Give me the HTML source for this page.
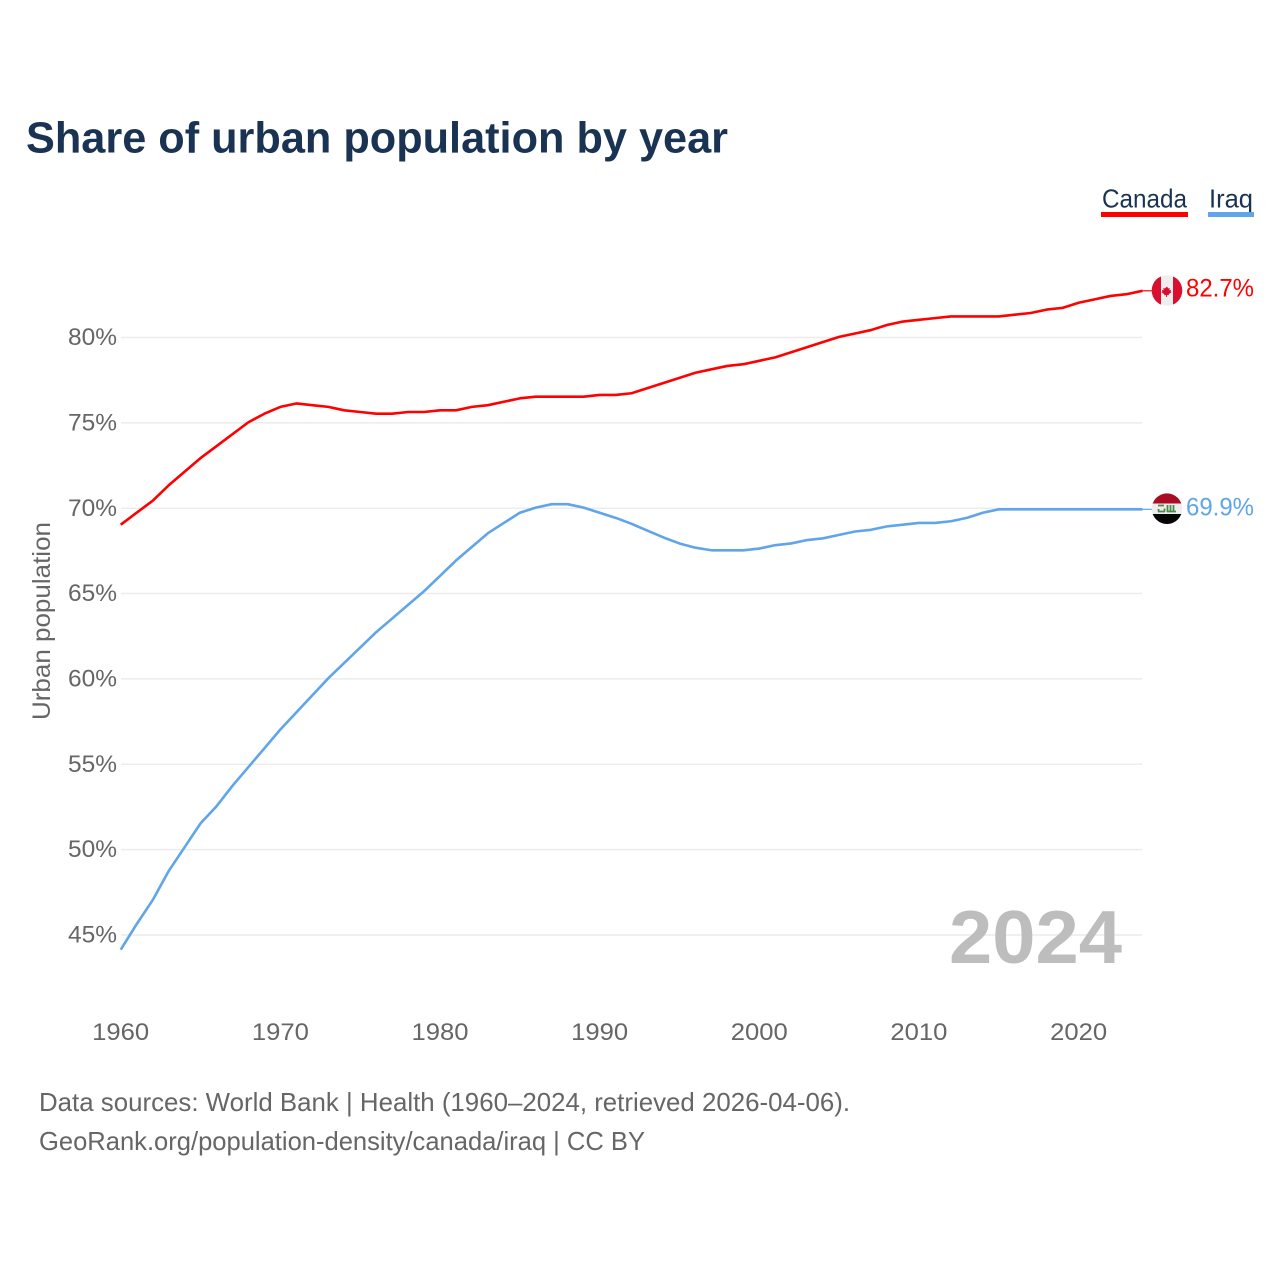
<!DOCTYPE html>
<html lang="en">
<head>
<meta charset="utf-8">
<title>Share of urban population by year</title>
<style>
html,body{margin:0;padding:0;background:#fff;width:1280px;height:1280px;overflow:hidden}
svg{display:block}
text{font-family:"Liberation Sans",sans-serif}
</style>
</head>
<body>
<svg id="chart" width="1280" height="1280" viewBox="0 0 1280 1280" xmlns="http://www.w3.org/2000/svg">
  <defs>
    <clipPath id="flag-clip-ca"><circle cx="1167" cy="290.5" r="15.3"/></clipPath>
    <clipPath id="flag-clip-iq"><circle cx="1167" cy="508.7" r="15.3"/></clipPath>
  </defs>
  <text x="26" y="152.500" font-size="44" font-weight="700" fill="#1a3353" textLength="702" lengthAdjust="spacingAndGlyphs">Share of urban population by year</text>

  <g>
    <g>
      <text x="1102" y="207.500" font-size="26" fill="#1a3353" textLength="85" lengthAdjust="spacingAndGlyphs">Canada</text>
      <rect x="1101" y="212" width="87" height="5" fill="#ff0000"/>
    </g>
    <g>
      <text x="1209" y="207.500" font-size="26" fill="#1a3353" textLength="44" lengthAdjust="spacingAndGlyphs">Iraq</text>
      <rect x="1208" y="212" width="46" height="5" fill="#60a5ea"/>
    </g>
  </g>

  <g id="grid"></g>
  <g id="y-ticks"></g>
  <g id="x-ticks"></g>
  <text transform="translate(50,621) rotate(-90)" text-anchor="middle" font-size="25" fill="#666666" textLength="198" lengthAdjust="spacingAndGlyphs">Urban population</text>

  <text x="1122" y="963" text-anchor="end" font-size="75" font-weight="700" fill="#bdbdbd" textLength="173" lengthAdjust="spacingAndGlyphs">2024</text>

  <g id="series"></g>

  <g clip-path="url(#flag-clip-ca)">
    <rect x="1151" y="275" width="32" height="31" fill="#eeeeee"/>
    <rect x="1151" y="275" width="10" height="31" fill="#d80f2f"/>
    <rect x="1173" y="275" width="10" height="31" fill="#d80f2f"/>
    <path d="M1167 286.500l1.200 2 1.600-.6-.5 2.400 1.700-.4-.4 1.600 1 .6-2.700 2-.3 1.200-1.600-.3v1.900h-1v-1.900l-1.600.3-.3-1.200-2.700-2 1-.6-.4-1.600 1.700.4-.5-2.400 1.600.6z" fill="#d80f2f"/>
  </g>
  <g clip-path="url(#flag-clip-iq)">
    <rect x="1151" y="493" width="32" height="10.500" fill="#a80d24"/>
    <rect x="1151" y="503.500" width="32" height="10.500" fill="#eeeeee"/>
    <rect x="1151" y="514" width="32" height="10.500" fill="#050505"/>
    <path d="M1158 505.500h6M1158 511.500h7M1164.500 511.500v-3M1158.500 511.500v-2.500M1167.500 512v-7M1170.500 512v-7M1173.500 512v-7M1167 511.500h9" fill="none" stroke="#4b8a47" stroke-width="1.800"/>
  </g>

  <text x="1254" y="296.500" text-anchor="end" font-size="25" fill="#ff0000" textLength="68" lengthAdjust="spacingAndGlyphs">82.7%</text>
  <text x="1254" y="515.500" text-anchor="end" font-size="25" fill="#60a5ea" textLength="68" lengthAdjust="spacingAndGlyphs">69.9%</text>

  <text x="39" y="1111" font-size="26" fill="#666666" textLength="811" lengthAdjust="spacingAndGlyphs">Data sources: World Bank | Health (1960–2024, retrieved 2026-04-06).</text>
  <text x="39" y="1150" font-size="26" fill="#666666" textLength="606" lengthAdjust="spacingAndGlyphs">GeoRank.org/population-density/canada/iraq | CC BY</text>
</svg>
<script>
const years = [1960,1961,1962,1963,1964,1965,1966,1967,1968,1969,1970,1971,1972,1973,1974,1975,1976,1977,1978,1979,1980,1981,1982,1983,1984,1985,1986,1987,1988,1989,1990,1991,1992,1993,1994,1995,1996,1997,1998,1999,2000,2001,2002,2003,2004,2005,2006,2007,2008,2009,2010,2011,2012,2013,2014,2015,2016,2017,2018,2019,2020,2021,2022,2023,2024];
const canadaValues = [69.0,69.7,70.4,71.3,72.1,72.9,73.6,74.3,75.0,75.5,75.9,76.1,76.0,75.9,75.7,75.6,75.5,75.5,75.6,75.6,75.7,75.7,75.9,76.0,76.2,76.4,76.5,76.5,76.5,76.5,76.6,76.6,76.7,77.0,77.3,77.6,77.9,78.1,78.3,78.4,78.6,78.8,79.1,79.4,79.7,80.0,80.2,80.4,80.7,80.9,81.0,81.1,81.2,81.2,81.2,81.2,81.3,81.4,81.6,81.7,82.0,82.2,82.4,82.5,82.7];
const iraqValues = [44.1,45.6,47.0,48.7,50.1,51.5,52.5,53.7,54.8,55.9,57.0,58.0,59.0,60.0,60.9,61.8,62.7,63.5,64.3,65.1,66.0,66.9,67.7,68.5,69.1,69.7,70.0,70.2,70.2,70.0,69.7,69.4,69.05,68.65,68.25,67.9,67.65,67.5,67.5,67.5,67.6,67.8,67.9,68.1,68.2,68.4,68.6,68.7,68.9,69.0,69.1,69.1,69.2,69.4,69.7,69.9,69.9,69.9,69.9,69.9,69.9,69.9,69.9,69.9,69.9];
const yTickValues = [45,50,55,60,65,70,75,80];
const xTickValues = [1960,1970,1980,1990,2000,2010,2020];

const NS = 'http://www.w3.org/2000/svg';
function xScale(year){ return 120.7 + (year - 1960) * 15.965; }
function yScale(value){ return 336.9 + (80 - value) * 17.07; }

const gridGroup = document.getElementById('grid');
const yGroup = document.getElementById('y-ticks');
yTickValues.forEach(function(v){
  const line = document.createElementNS(NS,'line');
  
  
  line.setAttribute('x1', 121);
  line.setAttribute('x2', 1142);
  line.setAttribute('y1', yScale(v) + 0.6);
  line.setAttribute('y2', yScale(v) + 0.6);
  line.setAttribute('stroke', '#ececec');
  line.setAttribute('stroke-width', '1.5');
  gridGroup.appendChild(line);
  const t = document.createElementNS(NS,'text');
  
  
  t.setAttribute('x', 117);
  t.setAttribute('y', yScale(v) + 8.2);
  t.setAttribute('text-anchor', 'end');
  t.setAttribute('font-size', '24');
  t.setAttribute('fill', '#666666');
  t.setAttribute('textLength', '49');
  t.setAttribute('lengthAdjust', 'spacingAndGlyphs');
  t.textContent = v + '%';
  yGroup.appendChild(t);
});

const xGroup = document.getElementById('x-ticks');
xTickValues.forEach(function(y){
  const t = document.createElementNS(NS,'text');
  
  
  t.setAttribute('x', xScale(y));
  t.setAttribute('y', 1040);
  t.setAttribute('text-anchor', 'middle');
  t.setAttribute('font-size', '24');
  t.setAttribute('fill', '#666666');
  t.setAttribute('textLength', '57');
  t.setAttribute('lengthAdjust', 'spacingAndGlyphs');
  t.textContent = y;
  xGroup.appendChild(t);
});

function drawSeries(values, color, name){
  const last = values.length - 1;
  const main = document.createElementNS(NS,'polyline');
  
  
  main.setAttribute('points', values.map(function(v,i){ return xScale(years[i]) + ',' + yScale(v); }).join(' '));
  main.setAttribute('fill', 'none');
  main.setAttribute('stroke', color);
  main.setAttribute('stroke-width', '2.6');
  main.setAttribute('stroke-linejoin', 'round');
  document.getElementById('series').appendChild(main);
  const lead = document.createElementNS(NS,'line');
  
  
  lead.setAttribute('x1', xScale(years[last]));
  lead.setAttribute('x2', xScale(years[last]) + 10);
  lead.setAttribute('y1', yScale(values[last]));
  lead.setAttribute('y2', yScale(values[last]));
  lead.setAttribute('stroke', color);
  lead.setAttribute('stroke-width', '1.2');
  document.getElementById('series').appendChild(lead);
}
drawSeries(canadaValues, '#ff0000', 'line-canada');
drawSeries(iraqValues, '#60a5ea', 'line-iraq');
</script>
</body>
</html>
